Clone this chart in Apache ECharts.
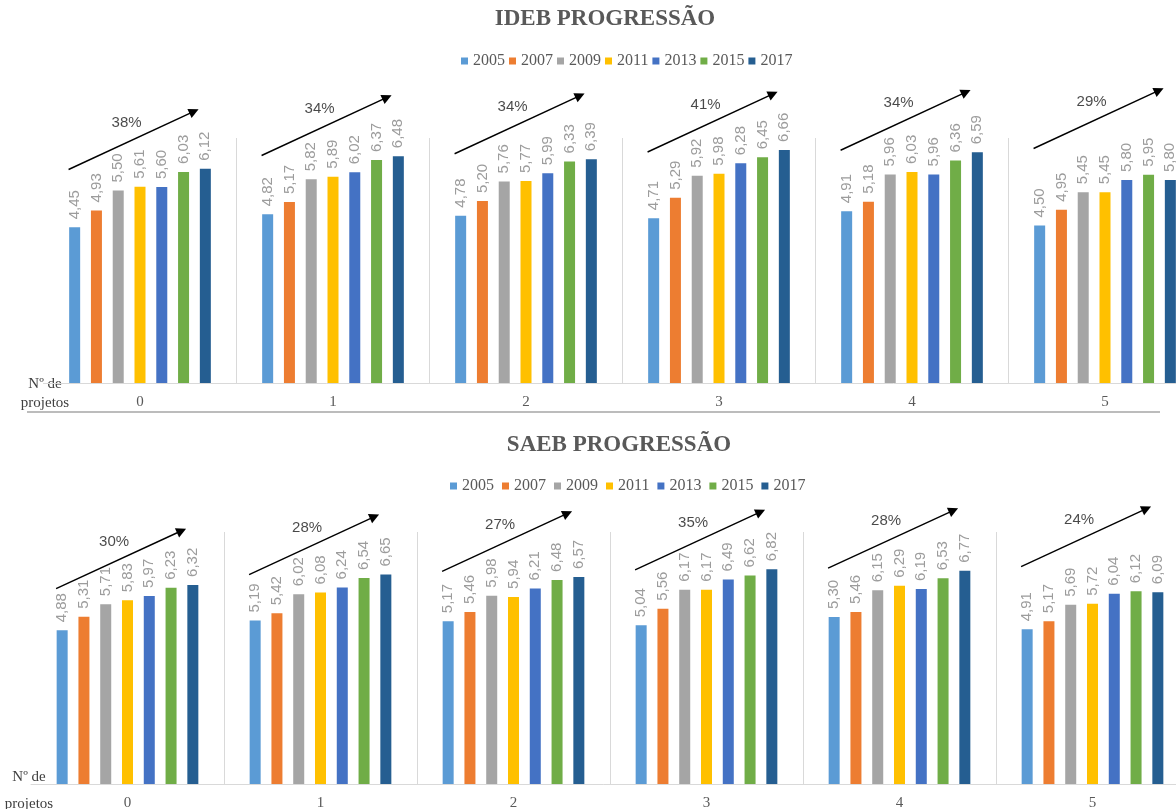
<!DOCTYPE html>
<html>
<head>
<meta charset="utf-8">
<title>IDEB e SAEB – progressão</title>
<script src="https://cdn.jsdelivr.net/npm/echarts@6/dist/echarts.min.js"></script>
<style>
  html, body { margin: 0; padding: 0; background: #ffffff; }
  #chart { width: 1176px; height: 809px; }
</style>
</head>
<body>
<div id="chart"></div>
<script>
// Número de projetos (categorias do eixo X)
const categories = ['0', '1', '2', '3', '4', '5'];
const years = ['2005', '2007', '2009', '2011', '2013', '2015', '2017'];

// IDEB por ano, para 0..5 projetos
const ideb2005 = [4.45, 4.82, 4.78, 4.71, 4.91, 4.50];
const ideb2007 = [4.93, 5.17, 5.20, 5.29, 5.18, 4.95];
const ideb2009 = [5.50, 5.82, 5.76, 5.92, 5.96, 5.45];
const ideb2011 = [5.61, 5.89, 5.77, 5.98, 6.03, 5.45];
const ideb2013 = [5.60, 6.02, 5.99, 6.28, 5.96, 5.80];
const ideb2015 = [6.03, 6.37, 6.33, 6.45, 6.36, 5.95];
const ideb2017 = [6.12, 6.48, 6.39, 6.66, 6.59, 5.80];

// SAEB por ano, para 0..5 projetos
const saeb2005 = [4.88, 5.19, 5.17, 5.04, 5.30, 4.91];
const saeb2007 = [5.31, 5.42, 5.46, 5.56, 5.46, 5.17];
const saeb2009 = [5.71, 6.02, 5.98, 6.17, 6.15, 5.69];
const saeb2011 = [5.83, 6.08, 5.94, 6.17, 6.29, 5.72];
const saeb2013 = [5.97, 6.24, 6.21, 6.49, 6.19, 6.04];
const saeb2015 = [6.23, 6.54, 6.48, 6.62, 6.53, 6.12];
const saeb2017 = [6.32, 6.65, 6.57, 6.82, 6.77, 6.09];

// Altura (no eixo de valores) onde começa cada seta de progressão
const idebArrowFrom = [6.10, 6.50, 6.55, 6.60, 6.65, 6.70];
const saebArrowFrom = [6.20, 6.65, 6.75, 6.80, 6.85, 6.90];

const idebSeries = [ideb2005, ideb2007, ideb2009, ideb2011, ideb2013, ideb2015, ideb2017];
const saebSeries = [saeb2005, saeb2007, saeb2009, saeb2011, saeb2013, saeb2015, saeb2017];

const colors = ['#5B9BD5', '#ED7D31', '#A5A5A5', '#FFC000', '#4472C4', '#70AD47', '#255E91'];
const serif = '"Liberation Serif", "Times New Roman", serif';
const narrow = '"Liberation Sans Narrow", "Liberation Sans", sans-serif';
const sans = '"Liberation Sans", Arial, sans-serif';

const fmt = v => v.toFixed(2).replace('.', ',');

// Crescimento entre o primeiro e o último ano de cada grupo
function growth(seriesList) {
  const first = seriesList[0], last = seriesList[seriesList.length - 1];
  return categories.map((_, i) => Math.round((last[i] / first[i] - 1) * 100) + '%');
}

function barSeries(seriesList, xIdx, yIdx) {
  return seriesList.map((vals, j) => ({
    name: years[j],
    type: 'bar',
    xAxisIndex: xIdx,
    yAxisIndex: yIdx,
    data: vals,
    barWidth: 11,
    barGap: '98%',
    itemStyle: { color: colors[j] },
    label: {
      show: true,
      position: 'top',
      rotate: 90,
      align: 'left',
      verticalAlign: 'middle',
      distance: 8,
      color: '#9c9c9c',
      fontFamily: narrow,
      fontSize: 15,
      formatter: p => fmt(p.value)
    },
    silent: true
  }));
}

// Setas e percentuais desenhados num eixo de valores auxiliar (0..6 = largura das categorias)
function arrowSeries(from, rise, seriesList, xIdx, yIdx) {
  const pct = growth(seriesList);
  return [
    {
      type: 'lines',
      coordinateSystem: 'cartesian2d',
      xAxisIndex: xIdx,
      yAxisIndex: yIdx,
      clip: false,
      silent: true,
      symbol: ['none', 'triangle'],
      symbolSize: 10,
      lineStyle: { color: '#000000', width: 1.4, opacity: 1, curveness: 0 },
      data: from.map((y, i) => ({ coords: [[i + 0.13, y], [i + 0.78, y + rise]] }))
    },
    {
      type: 'scatter',
      xAxisIndex: xIdx,
      yAxisIndex: yIdx,
      clip: false,
      silent: true,
      symbolSize: 0,
      itemStyle: { color: 'rgba(0,0,0,0)' },
      data: from.map((y, i) => [i + 0.13, y]),
      label: {
        show: true,
        position: 'inside',
        offset: [58, -47],
        color: '#1a1a1a',
        fontFamily: sans,
        fontSize: 15,
        formatter: p => pct[p.dataIndex]
      }
    }
  ];
}

function catAxis(gridIndex) {
  return {
    type: 'category',
    gridIndex,
    data: categories,
    boundaryGap: true,
    axisLine: { show: true, lineStyle: { color: '#d9d9d9', width: 1 } },
    axisTick: { show: false },
    axisLabel: { color: '#595959', fontFamily: serif, fontSize: 15, margin: 12 },
    splitLine: {
      show: true,
      interval: (index) => index !== 0,
      lineStyle: { color: '#d9d9d9', width: 1 }
    }
  };
}

function helperAxis(gridIndex) {
  return { type: 'value', gridIndex, min: 0, max: categories.length, show: false };
}

function legend(top, left, gap) {
  return {
    top, left,
    itemWidth: 7,
    itemHeight: 7,
    itemGap: gap,
    icon: 'rect',
    selectedMode: false,
    data: years,
    textStyle: { color: '#595959', fontFamily: serif, fontSize: 16 }
  };
}

const chart = echarts.init(document.getElementById('chart'), null, { renderer: 'canvas' });

chart.setOption({
  animation: false,
  backgroundColor: '#ffffff',
  // o último grupo de barras continua além da borda direita
  grid: [
    { left: 43.5, top: 138, width: 1158, height: 245, outerBoundsMode: 'none', containLabel: false },
    { left: 31, top: 532, width: 1158, height: 252, outerBoundsMode: 'none', containLabel: false }
  ],
  legend: [legend(48, 456, 4), legend(473, 445, 8)],
  xAxis: [catAxis(0), helperAxis(0), catAxis(1), helperAxis(1)],
  yAxis: [
    { type: 'value', gridIndex: 0, min: 0, max: 7, show: false },
    { type: 'value', gridIndex: 1, min: 0, max: 8, show: false }
  ],
  series: [
    ...barSeries(idebSeries, 0, 0),
    ...arrowSeries(idebArrowFrom, 1.66, idebSeries, 1, 0),
    ...barSeries(saebSeries, 2, 1),
    ...arrowSeries(saebArrowFrom, 1.84, saebSeries, 3, 1)
  ],
  graphic: [
    {
      type: 'text', silent: true,
      style: { text: 'IDEB PROGRESSÃO', x: 605, y: 19, align: 'center', verticalAlign: 'middle',
               font: 'bold 23px ' + serif, fill: '#595959' }
    },
    {
      type: 'text', silent: true,
      style: { text: 'SAEB PROGRESSÃO', x: 619, y: 445, align: 'center', verticalAlign: 'middle',
               font: 'bold 23px ' + serif, fill: '#595959' }
    },
    {
      type: 'text', silent: true,
      style: { text: 'Nº de\nprojetos', x: 45, y: 375, align: 'center', verticalAlign: 'top',
               lineHeight: 19, font: '15px ' + serif, fill: '#404040' }
    },
    {
      type: 'text', silent: true,
      style: { text: 'Nº de\nprojetos', x: 29, y: 764, align: 'center', verticalAlign: 'top',
               lineHeight: 27, font: '15px ' + serif, fill: '#404040' }
    },
    {
      type: 'line', silent: true,
      shape: { x1: 27, y1: 412, x2: 1160, y2: 412 },
      style: { stroke: '#a6a6a6', lineWidth: 1.5 }
    }
  ]
});
</script>
</body>
</html>
